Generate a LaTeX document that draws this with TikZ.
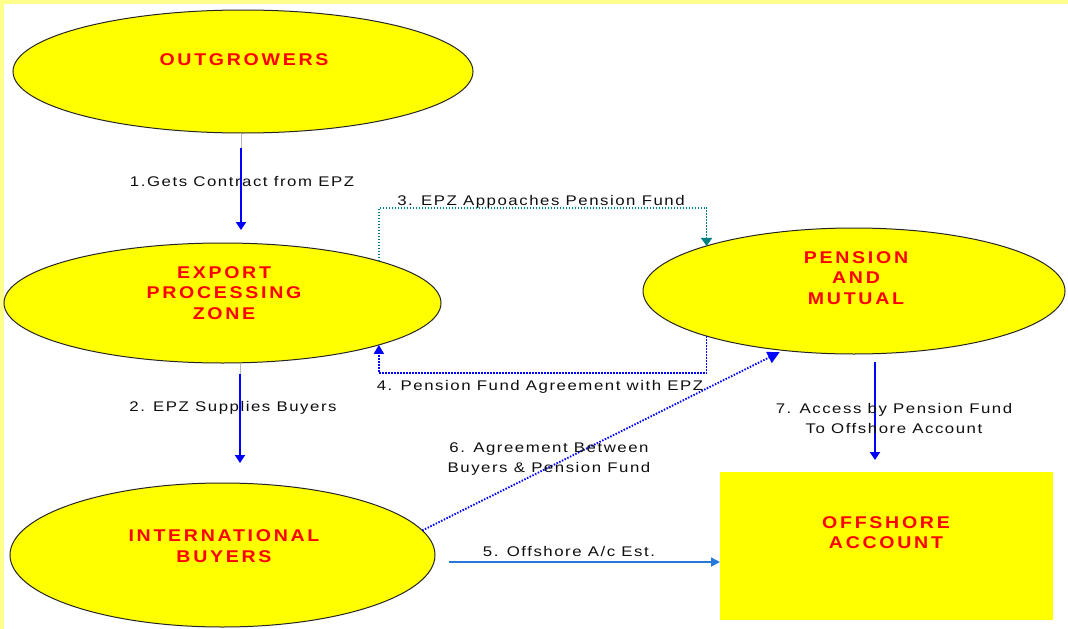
\documentclass[tikz,border=0pt]{standalone}
\usepackage{fontspec}
\setmainfont{Liberation Sans}
\newfontfamily\lblfont[LetterSpace=11,FakeStretch=1.2]{Liberation Sans}
\newfontfamily\nodefont[LetterSpace=16,FakeStretch=1.15]{Liberation Sans Bold}
\usetikzlibrary{shapes.geometric,arrows.meta}
\definecolor{nodeyellow}{RGB}{255,255,0}
\definecolor{paleyellow}{RGB}{255,255,140}
\definecolor{nodered}{RGB}{255,0,0}
\definecolor{arrowblue}{RGB}{0,0,255}
\definecolor{steelc}{RGB}{40,120,220}
\definecolor{tealc}{RGB}{0,128,128}
\definecolor{stubgray}{RGB}{185,185,185}
\definecolor{textgray}{RGB}{15,15,15}
\begin{document}
\begin{tikzpicture}[x=1pt,y=-1pt,
  blob/.style={ellipse, draw=black!85, line width=1pt, fill=nodeyellow, inner sep=0pt, outer sep=0pt},
  boxnode/.style={rectangle, fill=nodeyellow, inner sep=0pt, outer sep=0pt},
  title/.style={text=nodered, font=\nodefont\fontsize{17}{20.5}\selectfont, align=center, inner sep=0pt},
  lbl/.style={text=textgray, font=\lblfont\fontsize{14}{20}\selectfont, align=center, inner sep=0pt},
  stub/.style={draw=stubgray, line width=1pt},
  solidarrow/.style={draw=arrowblue, line width=2.2pt, -{Triangle[length=8pt,width=10pt]}},
  steelarrow/.style={draw=steelc, line width=1.7pt, -{Triangle[length=9pt,width=9pt]}},
  tealdot/.style={draw=tealc, line width=1.6pt, dash pattern=on 1.5pt off 1.5pt, -{Triangle[length=8pt,width=11pt]}},
  bluedot/.style={draw=arrowblue, line width=1.7pt, dash pattern=on 1.5pt off 1.5pt, -{Triangle[length=9pt,width=10pt]}},
  bigdot/.style={draw=arrowblue, line width=1.9pt, dash pattern=on 1.5pt off 1.5pt, -{Triangle[length=12pt,width=12pt]}}
]
\useasboundingbox (0,0) rectangle (1068,629);
\fill[white] (0,0) rectangle (1068,629);
\fill[paleyellow] (0,0) rectangle (1068,4);
\fill[paleyellow] (0,0) rectangle (4,629);

% nodes
\node[blob, minimum width=460pt, minimum height=123pt] (out) at (243,71.5) {};
\node[title] (outT) at (244,60) {OUTGROWERS};
\node[blob, minimum width=437pt, minimum height=120pt] (epz) at (222.5,303) {};
\node[title] (epzT) at (224,293) {EXPORT\\PROCESSING\\ZONE};
\node[blob, minimum width=425pt, minimum height=144pt] (buy) at (222.5,555) {};
\node[title] (buyT) at (224,546) {INTERNATIONAL\\BUYERS};
\node[blob, minimum width=422pt, minimum height=126pt] (pen) at (854,291) {};
\node[title] (penT) at (856,278) {PENSION\\AND\\MUTUAL};
\node[boxnode, minimum width=333pt, minimum height=148pt] (off) at (886.5,546) {};
\node[title] (offT) at (886,532.5) {OFFSHORE\\ACCOUNT};

% connector coordinates
\coordinate (a1s) at (241,148);
\coordinate (a1e) at (241,230);
\coordinate (a2s) at (240,374);
\coordinate (a2e) at (240,463);
\coordinate (c3) at (707,208);
\coordinate (c4) at (540,373);
\coordinate (c5s) at (449,562);
\coordinate (c7s) at (875,362);

% 1
\draw[stub] (out.south -| a1s) -- (a1s);
\draw[solidarrow] (a1s) -- (a1e);
% 2
\draw[stub] (epz.south -| a2s) -- (a2s);
\draw[solidarrow] (a2s) -- (a2e);
% 3
\draw[tealdot] (epz.15) |- (c3) -| (pen.163);
% 4
\draw[bluedot] (pen.197) |- (c4) -| (epz.-15);
% 6
\draw[bigdot, shorten >=4pt] (buy.7) -- (pen.-140);
% 5
\draw[steelarrow] (c5s) -- (c5s -| off.west);
% 7
\draw[solidarrow, shorten >=12pt] (c7s) -- (c7s |- off.north);

% labels
\node[lbl] (l1) at (242,182) {1.Gets Contract from EPZ};
\node[lbl] (l2) at (233,408) {2. EPZ Supplies Buyers};
\node[lbl] (l3) at (541,202) {3. EPZ Appoaches Pension Fund};
\node[lbl] (l4) at (540,387) {4. Pension Fund Agreement with EPZ};
\node[lbl] (l5) at (569,551) {5. Offshore A/c Est.};
\node[lbl] (l6) at (549,459) {6. Agreement Between\\Buyers \& Pension Fund};
\node[lbl] (l7) at (894,418) {7. Access by Pension Fund\\To Offshore Account};
\end{tikzpicture}
\end{document}
